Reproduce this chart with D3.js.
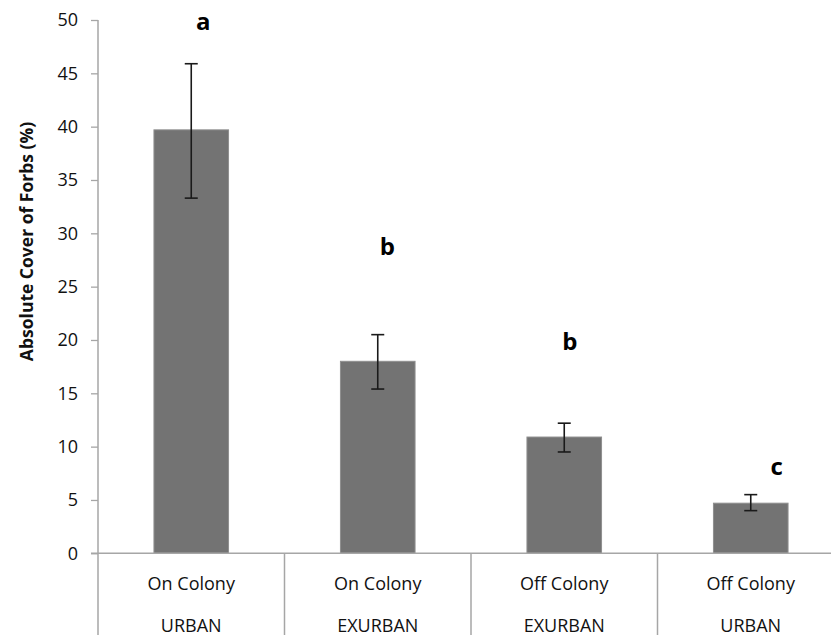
<!DOCTYPE html>
<html>
<head>
<meta charset="utf-8">
<script src="https://cdn.jsdelivr.net/npm/d3@7"></script>
<style>
  html, body { margin: 0; padding: 0; background: #fff; }
  svg { display: block; font-family: "Open Sans", sans-serif; }
</style>
</head>
<body>
<svg id="chart" width="831" height="635"></svg>
<script>
// Forb cover by colony status and landscape type
const colonyStatus = ["On Colony", "On Colony", "Off Colony", "Off Colony"];
const landscape    = ["URBAN", "EXURBAN", "EXURBAN", "URBAN"];
const meanCover    = [39.7, 18.0, 10.9, 4.7];
const errUpper     = [45.9, 20.5, 12.2, 5.5];
const errLower     = [33.3, 15.4, 9.5, 4.0];
const groupLetters = ["a", "b", "b", "c"];
const letterLevel  = [49.1, 28.0, 19.1, 7.3];   // height (in % cover) of each letter's baseline
const yTicks       = [0, 5, 10, 15, 20, 25, 30, 35, 40, 45, 50];

const svg = d3.select("#chart");
const plotL = 98, plotR = 844, plotT = 20, plotB = 553.3, H = 635;
const axisColor = "#a6a6a6";

const keys = d3.range(meanCover.length);
const x = d3.scaleBand().domain(keys).range([plotL, plotR])
  .paddingInner(0.6).paddingOuter(0.3);
const xGroup = d3.scaleBand().domain(keys).range([plotL, plotR]).padding(0);
const y = d3.scaleLinear().domain([0, 50]).range([plotB, plotT]);

// Y axis
const yAxis = svg.append("g")
  .attr("transform", `translate(${plotL},0)`)
  .call(d3.axisLeft(y).tickValues(yTicks).tickSize(7).tickPadding(13).tickSizeOuter(0));
yAxis.select(".domain").remove();
yAxis.selectAll(".tick line").attr("stroke", axisColor).attr("stroke-width", 1.3);
yAxis.selectAll(".tick text")
  .attr("font-size", 18).attr("font-family", "Open Sans, sans-serif").attr("fill", "#111");
svg.append("line")
  .attr("x1", plotL).attr("x2", plotL).attr("y1", plotT).attr("y2", H)
  .attr("stroke", axisColor).attr("stroke-width", 1.5);

// Y title
svg.append("text")
  .attr("transform", `translate(33,241.5) rotate(-90)`)
  .attr("text-anchor", "middle")
  .attr("font-size", 17.5).attr("font-weight", "bold").attr("fill", "#111")
  .text("Absolute Cover of Forbs (%)");

// Bars
svg.append("g").selectAll("rect").data(keys).join("rect")
  .attr("x", i => x(i))
  .attr("width", x.bandwidth())
  .attr("y", i => y(meanCover[i]))
  .attr("height", i => y(0) - y(meanCover[i]))
  .attr("fill", "#737373")
  .attr("stroke", "#8f8f8f").attr("stroke-width", 1);

// X axis baseline and category dividers
svg.append("line")
  .attr("x1", plotL - 7).attr("x2", 831).attr("y1", plotB).attr("y2", plotB)
  .attr("stroke", axisColor).attr("stroke-width", 1.5);
svg.append("g").selectAll("line").data(keys.slice(1).concat([keys.length])).join("line")
  .attr("x1", i => plotL + i * xGroup.step()).attr("x2", i => plotL + i * xGroup.step())
  .attr("y1", plotB).attr("y2", H)
  .attr("stroke", axisColor).attr("stroke-width", 1.5);

// Error bars
const cap = 6.5;
const eb = svg.append("g").attr("stroke", "#1a1a1a").attr("stroke-width", 1.6);
keys.forEach(i => {
  const cx = x(i) + x.bandwidth() / 2;
  eb.append("line").attr("x1", cx).attr("x2", cx)
    .attr("y1", y(errUpper[i])).attr("y2", y(errLower[i]));
  [errUpper[i], errLower[i]].forEach(v => {
    eb.append("line").attr("x1", cx - cap).attr("x2", cx + cap)
      .attr("y1", y(v)).attr("y2", y(v));
  });
});

// Significance letters
const letterNudge = [12, 9.5, 5.5, 26];
svg.append("g").selectAll("text").data(keys).join("text")
  .attr("x", i => x(i) + x.bandwidth() / 2 + letterNudge[i])
  .attr("y", i => y(letterLevel[i]))
  .attr("text-anchor", "middle")
  .attr("font-size", 24).attr("font-weight", "bold").attr("fill", "#000")
  .text(i => groupLetters[i]);

// Two-level category labels
const lab = svg.append("g").attr("text-anchor", "middle")
  .attr("font-size", 18).attr("fill", "#111");
lab.selectAll("text.status").data(keys).join("text").attr("class", "status")
  .attr("x", i => xGroup(i) + xGroup.bandwidth() / 2)
  .attr("y", 589.5)
  .text(i => colonyStatus[i]);
lab.selectAll("text.land").data(keys).join("text").attr("class", "land")
  .attr("x", i => xGroup(i) + xGroup.bandwidth() / 2)
  .attr("y", 631.5)
  .text(i => landscape[i]);
</script>
</body>
</html>
